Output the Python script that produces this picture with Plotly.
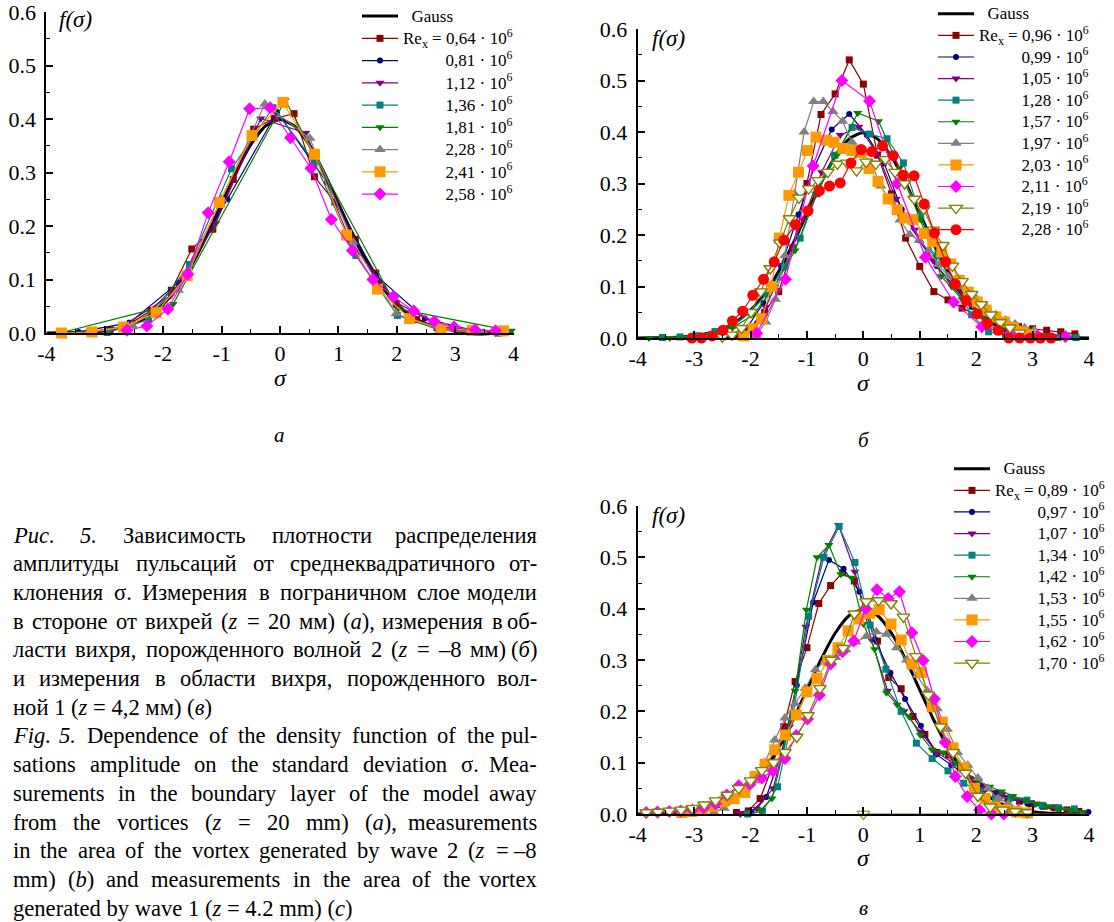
import re
import plotly.graph_objects as go

W, H = 1114, 922

# ---------------- data ----------------
GAUSS_X = [-4.0, -3.75, -3.5, -3.25, -3.0, -2.75, -2.5, -2.25, -2.0, -1.75, -1.5, -1.25, -1.0, -0.75, -0.5, -0.25,
           0.0, 0.25, 0.5, 0.75, 1.0, 1.25, 1.5, 1.75, 2.0, 2.25, 2.5, 2.75, 3.0, 3.25, 3.5, 3.75, 4.0]
GAUSS_Y = [0.0001, 0.0004, 0.0009, 0.0020, 0.0044, 0.0091, 0.0175, 0.0317, 0.0540, 0.0863, 0.1295, 0.1826, 0.2420,
           0.3011, 0.3521, 0.3867, 0.3989, 0.3867, 0.3521, 0.3011, 0.2420, 0.1826, 0.1295, 0.0863, 0.0540, 0.0317,
           0.0175, 0.0091, 0.0044, 0.0020, 0.0009, 0.0004, 0.0001]

X_TICK_VALUES = [-4, -3, -2, -1, 0, 1, 2, 3, 4]
X_TICK_LABELS = ["-4", "-3", "-2", "-1", "0", "1", "2", "3", "4"]
Y_TICK_VALUES = [0.0, 0.1, 0.2, 0.3, 0.4, 0.5, 0.6]
Y_TICK_LABELS = ["0.0", "0.1", "0.2", "0.3", "0.4", "0.5", "0.6"]

# panel a
A_LABELS = ["0,64", "0,81", "1,12", "1,36", "1,81", "2,28", "2,41", "2,58"]
a_064_x = [-3.26, -2.91, -2.56, -2.21, -1.86, -1.51, -1.15, -0.80, -0.45, -0.10, 0.24, 0.59, 0.94, 1.29, 1.64, 1.99, 2.34, 2.69, 3.04, 3.39, 3.74]
a_064_y = [0.002, 0.006, 0.018, 0.042, 0.08, 0.157, 0.194, 0.287, 0.381, 0.401, 0.41, 0.292, 0.245, 0.175, 0.112, 0.055, 0.025, 0.01, 0.003, 0.001, 0.0]
a_081_x = [-3.45, -2.58, -1.74, -0.90, -0.05, 0.80, 1.63, 2.48, 3.34]
a_081_y = [0.002, 0.019, 0.094, 0.25, 0.413, 0.282, 0.109, 0.027, 0.004]
a_112_x = [-2.64, -1.87, -1.10, -0.33, 0.44, 1.21, 1.98, 2.75, 3.52]
a_112_y = [0.017, 0.07, 0.205, 0.401, 0.374, 0.17, 0.058, 0.012, 0.002]
a_136_x = [-2.96, -2.25, -1.55, -0.83, -0.12, 0.59, 1.30, 2.01, 2.72, 3.43]
a_136_y = [0.001, 0.025, 0.128, 0.307, 0.421, 0.32, 0.145, 0.033, 0.006, 0.001]
a_181_x = [-3.77, -1.83, 0.09, 2.02, 3.96]
a_181_y = [0.0, 0.054, 0.435, 0.045, 0.004]
a_228_x = [-3.28, -2.53, -1.74, -1.0, -0.26, 0.51, 1.25, 1.99, 2.74, 3.49]
a_228_y = [0.002, 0.014, 0.08, 0.25, 0.428, 0.364, 0.17, 0.036, 0.006, 0.0]
a_241_x = [-3.74, -3.22, -2.68, -2.12, -1.59, -1.04, -0.48, 0.05, 0.59, 1.14, 1.67, 2.22, 2.76, 3.29, 3.83]
a_241_y = [0.0, 0.002, 0.011, 0.038, 0.107, 0.244, 0.369, 0.431, 0.334, 0.183, 0.082, 0.027, 0.008, 0.005, 0.004]
a_258_x = [-2.62, -2.28, -1.92, -1.58, -1.23, -0.87, -0.52, -0.17, 0.18, 0.53, 0.88, 1.24, 1.59, 1.94, 2.29, 2.64, 2.98, 3.34, 3.69]
a_258_y = [0.005, 0.013, 0.045, 0.110, 0.225, 0.320, 0.419, 0.421, 0.365, 0.308, 0.212, 0.154, 0.100, 0.068, 0.041, 0.022, 0.011, 0.006, 0.004]

# panel b
B_LABELS = ["0,96", "0,99", "1,05", "1,28", "1,57", "1,97", "2,03", "2,11", "2,19", "2,28"]
b_096_x = [-2.25, -2.0, -1.75, -1.5, -1.25, -1.0, -0.75, -0.5, -0.25, 0.0, 0.25, 0.5, 0.75, 1.0, 1.25, 1.5, 1.75, 2.0, 2.25, 2.5, 2.75, 3.0, 3.25, 3.5, 3.75]
b_096_y = [0.005, 0.02, 0.05, 0.09, 0.175, 0.30, 0.434, 0.474, 0.540, 0.493, 0.355, 0.28, 0.194, 0.139, 0.09, 0.074, 0.058, 0.045, 0.035, 0.028, 0.022, 0.018, 0.015, 0.012, 0.008]
b_099_x = [-2.39, -2.08, -1.77, -1.46, -1.15, -0.87, -0.56, -0.25, 0.06, 0.37, 0.68, 0.99, 1.30, 1.61, 1.92, 2.23, 2.54, 2.85, 3.16]
b_099_y = [0.003, 0.017, 0.068, 0.14, 0.24, 0.332, 0.405, 0.435, 0.394, 0.339, 0.25, 0.19, 0.14, 0.10, 0.06, 0.03, 0.012, 0.004, 0.001]
b_105_x = [-2.06, -1.73, -1.40, -1.07, -0.74, -0.41, -0.08, 0.25, 0.58, 0.91, 1.24, 1.57, 1.90, 2.23, 2.56, 2.89]
b_105_y = [0.01, 0.06, 0.14, 0.23, 0.322, 0.394, 0.41, 0.358, 0.27, 0.21, 0.15, 0.1, 0.065, 0.035, 0.015, 0.005]
b_128_x = [-3.56, -3.25, -2.94, -2.63, -2.32, -2.01, -1.71, -1.40, -1.12, -0.82, -0.51, -0.20, 0.11, 0.42, 0.71, 1.01, 1.31, 1.61, 1.92, 2.22, 2.52, 2.83, 3.14, 3.45, 3.77]
b_128_y = [0.001, 0.002, 0.0045, 0.0125, 0.025, 0.05, 0.086, 0.138, 0.194, 0.28, 0.355, 0.409, 0.396, 0.387, 0.34, 0.239, 0.16, 0.10, 0.045, 0.012, 0.005, 0.002, 0.001, 0.001, 0.001]
b_157_x = [-3.80, -3.43, -3.06, -2.69, -2.32, -1.95, -1.58, -1.21, -0.84, -0.47, -0.10, 0.27, 0.64, 1.01, 1.38, 1.75, 2.12, 2.49, 2.86, 3.23, 3.60]
b_157_y = [0.0, 0.0, 0.002, 0.008, 0.02, 0.045, 0.1, 0.17, 0.28, 0.355, 0.437, 0.421, 0.33, 0.23, 0.12, 0.075, 0.04, 0.02, 0.01, 0.005, 0.002]
b_197_x = [-1.90, -1.73, -1.56, -1.39, -1.22, -1.05, -0.88, -0.71, -0.54, -0.37, -0.20, -0.03, 0.14, 0.31, 0.48, 0.65, 0.82, 0.99, 1.16, 1.33, 1.50, 1.67, 1.84, 2.01, 2.18, 2.35, 2.52, 2.69, 2.86, 3.03]
b_197_y = [0.005, 0.031, 0.075, 0.16, 0.28, 0.40, 0.459, 0.459, 0.44, 0.421, 0.38, 0.36, 0.34, 0.295, 0.265, 0.229, 0.201, 0.19, 0.17, 0.142, 0.12, 0.10, 0.088, 0.075, 0.06, 0.045, 0.035, 0.027, 0.02, 0.015]
b_203_x = [-2.12, -1.96, -1.80, -1.63, -1.49, -1.32, -1.15, -0.99, -0.84, -0.65, -0.52, -0.36, -0.20, -0.04, 0.10, 0.26, 0.44, 0.60, 0.73, 0.88, 1.08, 1.23, 1.39, 1.55, 1.70, 1.86, 2.02, 2.18, 2.35, 2.50, 2.66, 2.82, 2.98]
b_203_y = [0.004, 0.018, 0.0375, 0.10, 0.194, 0.277, 0.322, 0.364, 0.39, 0.384, 0.38, 0.368, 0.364, 0.36, 0.329, 0.304, 0.27, 0.249, 0.233, 0.23, 0.203, 0.187, 0.167, 0.144, 0.112, 0.089, 0.07, 0.054, 0.041, 0.031, 0.02, 0.012, 0.006]
b_211_x = [-1.89, -1.38, -0.89, -0.38, 0.11, 0.60, 1.10, 1.60, 2.10, 2.60, 3.09, 3.58]
b_211_y = [0.009, 0.114, 0.334, 0.50, 0.46, 0.30, 0.157, 0.07, 0.022, 0.008, 0.004, 0.003]
b_219_x = [-2.50, -2.33, -2.16, -1.99, -1.82, -1.65, -1.48, -1.31, -1.14, -0.97, -0.80, -0.63, -0.46, -0.29, -0.12, 0.05, 0.22, 0.39, 0.56, 0.73, 0.90, 1.07, 1.24, 1.41, 1.58, 1.75, 1.92, 2.09, 2.26, 2.43, 2.60, 2.77]
b_219_y = [0.002, 0.006, 0.019, 0.05, 0.09, 0.135, 0.185, 0.232, 0.272, 0.29, 0.306, 0.322, 0.338, 0.34, 0.325, 0.342, 0.338, 0.347, 0.322, 0.30, 0.27, 0.25, 0.21, 0.18, 0.14, 0.11, 0.085, 0.065, 0.045, 0.03, 0.02, 0.01]
b_228_x = [-3.04, -2.87, -2.68, -2.49, -2.32, -2.14, -1.96, -1.77, -1.58, -1.41, -1.20, -0.98, -0.78, -0.60, -0.41, -0.22, -0.04, 0.15, 0.34, 0.53, 0.71, 0.90, 1.08, 1.26, 1.46, 1.63, 1.82, 2.02, 2.20, 2.39, 2.58, 2.77, 2.96, 3.14, 3.33]
b_228_y = [0.0, 0.0, 0.004, 0.015, 0.033, 0.052, 0.083, 0.114, 0.148, 0.19, 0.22, 0.247, 0.286, 0.295, 0.301, 0.34, 0.366, 0.362, 0.373, 0.354, 0.316, 0.315, 0.26, 0.204, 0.148, 0.105, 0.073, 0.047, 0.028, 0.015, 0.0, 0.0, 0.0, 0.0, 0.0]

# panel c
C_LABELS = ["0,89", "0,97", "1,07", "1,34", "1,42", "1,53", "1,55", "1,62", "1,70"]
c_089_x = [-2.25, -2.04, -1.83, -1.62, -1.41, -1.21, -1.0, -0.79, -0.58, -0.37, -0.16, 0.05, 0.25, 0.45, 0.67, 0.88, 1.09, 1.30, 1.51, 1.72, 1.93, 2.14, 2.35, 2.56, 2.77, 2.98, 3.19, 3.40, 3.61, 3.82]
c_089_y = [0.003, 0.006, 0.03, 0.09, 0.17, 0.258, 0.324, 0.41, 0.445, 0.47, 0.454, 0.40, 0.337, 0.266, 0.244, 0.19, 0.155, 0.12, 0.115, 0.09, 0.065, 0.05, 0.04, 0.03, 0.025, 0.02, 0.015, 0.012, 0.008, 0.005]
c_097_x = [-1.98, -1.72, -1.45, -1.18, -0.89, -0.61, -0.35, -0.07, 0.20, 0.48, 0.74, 1.02, 1.29, 1.56, 1.83, 2.10, 2.37, 2.64, 2.91, 3.18, 3.45, 3.72, 3.99]
c_097_y = [0.004, 0.033, 0.12, 0.251, 0.412, 0.495, 0.478, 0.433, 0.34, 0.275, 0.224, 0.172, 0.116, 0.095, 0.075, 0.055, 0.04, 0.03, 0.02, 0.015, 0.01, 0.006, 0.004]
c_107_x = [-2.18, -1.89, -1.60, -1.31, -1.02, -0.73, -0.44, -0.15, 0.14, 0.43, 0.72, 1.01, 1.30, 1.59, 1.88, 2.17, 2.46, 2.75, 3.04, 3.33, 3.62, 3.91]
c_107_y = [0.0, 0.01, 0.05, 0.17, 0.365, 0.50, 0.563, 0.472, 0.34, 0.24, 0.2, 0.16, 0.12, 0.1, 0.07, 0.05, 0.038, 0.028, 0.02, 0.013, 0.008, 0.004]
c_134_x = [-2.05, -1.79, -1.52, -1.25, -0.97, -0.70, -0.43, -0.15, 0.12, 0.40, 0.67, 0.94, 1.22, 1.50, 1.78, 2.06, 2.34, 2.62, 2.90, 3.17, 3.46, 3.74]
c_134_y = [0.0, 0.005, 0.053, 0.19, 0.385, 0.50, 0.56, 0.49, 0.368, 0.282, 0.20, 0.138, 0.108, 0.084, 0.06, 0.045, 0.03, 0.032, 0.027, 0.017, 0.012, 0.01]
c_142_x = [-1.82, -1.62, -1.42, -1.21, -1.01, -0.82, -0.61, -0.40, -0.20, 0.0, 0.2, 0.41, 0.6, 0.81, 1.01, 1.22, 1.42, 1.63, 1.83, 2.04, 2.24, 2.45, 2.65, 2.86, 3.06, 3.27, 3.47, 3.68, 3.88]
c_142_y = [0.008, 0.03, 0.12, 0.24, 0.398, 0.50, 0.524, 0.467, 0.46, 0.37, 0.321, 0.236, 0.213, 0.19, 0.154, 0.125, 0.12, 0.1, 0.08, 0.065, 0.053, 0.044, 0.035, 0.027, 0.02, 0.015, 0.01, 0.007, 0.004]
c_153_x = [-2.65, -2.47, -2.29, -2.11, -1.93, -1.75, -1.57, -1.39, -1.21, -1.03, -0.85, -0.67, -0.49, -0.31, -0.13, 0.05, 0.23, 0.41, 0.59, 0.77, 0.95, 1.13, 1.31, 1.49, 1.67, 1.85, 2.03, 2.21, 2.39, 2.57, 2.75, 2.93]
c_153_y = [0.003, 0.011, 0.025, 0.045, 0.065, 0.10, 0.144, 0.187, 0.215, 0.245, 0.281, 0.30, 0.305, 0.32, 0.335, 0.346, 0.355, 0.35, 0.324, 0.30, 0.27, 0.24, 0.205, 0.165, 0.12, 0.095, 0.07, 0.05, 0.03, 0.02, 0.01, 0.005]
c_155_x = [-3.22, -3.04, -2.85, -2.67, -2.48, -2.29, -2.10, -1.92, -1.74, -1.57, -1.38, -1.19, -1.00, -0.82, -0.63, -0.45, -0.27, -0.08, 0.11, 0.28, 0.49, 0.67, 0.86, 1.03, 1.22, 1.40, 1.59, 1.78, 1.97, 2.16, 2.34, 2.53, 2.72, 2.91]
c_155_y = [0.003, 0.005, 0.008, 0.015, 0.024, 0.03, 0.042, 0.073, 0.097, 0.125, 0.154, 0.193, 0.238, 0.264, 0.299, 0.324, 0.357, 0.38, 0.391, 0.398, 0.37, 0.339, 0.292, 0.276, 0.209, 0.179, 0.129, 0.09, 0.05, 0.03, 0.014, 0.008, 0.004, 0.002]
c_162_x = [-3.85, -3.65, -3.44, -3.24, -3.03, -2.83, -2.62, -2.42, -2.21, -2.01, -1.80, -1.60, -1.39, -1.19, -0.99, -0.78, -0.58, -0.37, -0.17, 0.04, 0.24, 0.44, 0.64, 0.86, 1.06, 1.26, 1.45, 1.63, 1.84, 2.06, 2.27, 2.49]
c_162_y = [0.003, 0.004, 0.005, 0.006, 0.008, 0.012, 0.02, 0.037, 0.055, 0.058, 0.07, 0.084, 0.108, 0.153, 0.185, 0.232, 0.292, 0.316, 0.337, 0.40, 0.437, 0.42, 0.433, 0.353, 0.299, 0.224, 0.14, 0.073, 0.034, 0.008, 0.0, 0.0]
c_170_x = [-3.85, -3.64, -3.44, -3.23, -3.03, -2.82, -2.62, -2.41, -2.21, -2.0, -1.80, -1.59, -1.39, -1.18, -0.98, -0.77, -0.57, -0.36, -0.16, 0.05, 0.27, 0.49, 0.71, 0.93, 1.15, 1.37, 1.59, 1.81, 2.03, 2.25, 2.47, 2.69, 2.91]
c_170_y = [0.003, 0.004, 0.006, 0.008, 0.011, 0.018, 0.026, 0.037, 0.05, 0.065, 0.085, 0.10, 0.12, 0.15, 0.192, 0.245, 0.30, 0.323, 0.39, 0.414, 0.416, 0.41, 0.384, 0.307, 0.232, 0.17, 0.12, 0.08, 0.035, 0.014, 0.008, 0.005, 0.003]
c_170_zero_x = [0.0, 4.0]
c_170_zero_y = [0.0, 0.0]

CAPTION = [
    ("<i>Рис.</i> <i>5.</i> Зависимость плотности распределения", True),
    ("амплитуды пульсаций от среднеквадратичного от-", True),
    ("клонения σ. Измерения в пограничном слое модели", True),
    ("в стороне от вихрей (<i>z</i> = 20 мм) (<i>а</i>), измерения в об-", True),
    ("ласти вихря, порожденного волной 2 (<i>z</i> = –8 мм) (<i>б</i>)", True),
    ("и измерения в области вихря, порожденного вол-", True),
    ("ной 1 (<i>z</i> = 4,2 мм) (<i>в</i>)", False),
    ("<i>Fig.</i> <i>5.</i> Dependence of the density function of the pul-", True),
    ("sations amplitude on the standard deviation σ. Mea-", True),
    ("surements in the boundary layer of the model away", True),
    ("from the vortices (<i>z</i> = 20 mm) (<i>a</i>), measurements", True),
    ("in the area of the vortex generated by wave 2 (<i>z</i> = –8", True),
    ("mm) (<i>b</i>) and measurements in the area of the vortex", True),
    ("generated by wave 1 (<i>z</i> = 4.2 mm) (<i>c</i>)", False),
]

# ---------------- styling ----------------
SERIF = "Liberation Serif"
C_DRED, C_NAVY, C_PURP, C_TEAL = "#8B0000", "#000080", "#800080", "#008080"
C_GREEN, C_GREY, C_ORNG, C_MAG = "#008000", "#808080", "#FF9900", "#FF00FF"
C_OLIVE, C_RED = "#808000", "#FF0000"

NB = "\u00a0"
PAD = NB * 10
LEG_TXT = '<span style="font-size:17px">{}</span>'


def px_x(p):
    return p / W


def px_y(p):
    return 1 - p / H


def label(num, first):
    if first:
        return LEG_TXT.format("Re<sub>x</sub> = " + num + " · 10<sup>6</sup>")
    return LEG_TXT.format(PAD + num + " · 10<sup>6</sup>")


fig = go.Figure()


def add_gauss(xa, ya, leg):
    fig.add_trace(go.Scatter(x=GAUSS_X, y=GAUSS_Y, mode="lines", name=LEG_TXT.format(NB + NB + "Gauss"),
                             line=dict(color="black", width=3, shape="spline", smoothing=0.6),
                             xaxis=xa, yaxis=ya, legend=leg, cliponaxis=False))


def add_series(xs, ys, name, color, symbol, size, xa, ya, leg, hollow=False):
    if hollow:
        mk = dict(symbol=symbol, size=size, color="white", line=dict(color=color, width=1.4))
    else:
        mk = dict(symbol=symbol, size=size, color=color, line=dict(width=0))
    fig.add_trace(go.Scatter(x=xs, y=ys, mode="lines+markers", name=name,
                             line=dict(color=color, width=1.2), marker=mk,
                             xaxis=xa, yaxis=ya, legend=leg, cliponaxis=False))


# panel a
add_gauss("x", "y", "legend")
a_data = [(a_064_x, a_064_y, C_DRED, "square", 7), (a_081_x, a_081_y, C_NAVY, "circle", 6),
          (a_112_x, a_112_y, C_PURP, "triangle-down", 8), (a_136_x, a_136_y, C_TEAL, "square", 7),
          (a_181_x, a_181_y, C_GREEN, "triangle-down", 8), (a_228_x, a_228_y, C_GREY, "triangle-up", 10),
          (a_241_x, a_241_y, C_ORNG, "square", 11), (a_258_x, a_258_y, C_MAG, "diamond", 10)]
for i, (xs, ys, col, sym, sz) in enumerate(a_data):
    add_series(xs, ys, label(A_LABELS[i], i == 0), col, sym, sz, "x", "y", "legend")

# panel b
add_gauss("x2", "y2", "legend2")
b_data = [(b_096_x, b_096_y, C_DRED, "square", 7, False), (b_099_x, b_099_y, C_NAVY, "circle", 6, False),
          (b_105_x, b_105_y, C_PURP, "triangle-down", 8, False), (b_128_x, b_128_y, C_TEAL, "square", 7, False),
          (b_157_x, b_157_y, C_GREEN, "triangle-down", 8, False), (b_197_x, b_197_y, C_GREY, "triangle-up", 10, False),
          (b_203_x, b_203_y, C_ORNG, "square", 11, False), (b_211_x, b_211_y, C_MAG, "diamond", 10, False),
          (b_219_x, b_219_y, C_OLIVE, "triangle-down", 11, True), (b_228_x, b_228_y, C_RED, "circle", 11, False)]
for i, (xs, ys, col, sym, sz, hol) in enumerate(b_data):
    add_series(xs, ys, label(B_LABELS[i], i == 0), col, sym, sz, "x2", "y2", "legend2", hol)

# panel c
add_gauss("x3", "y3", "legend3")
c_data = [(c_089_x, c_089_y, C_DRED, "square", 7, False), (c_097_x, c_097_y, C_NAVY, "circle", 6, False),
          (c_107_x, c_107_y, C_PURP, "triangle-down", 8, False), (c_134_x, c_134_y, C_TEAL, "square", 7, False),
          (c_142_x, c_142_y, C_GREEN, "triangle-down", 8, False), (c_153_x, c_153_y, C_GREY, "triangle-up", 10, False),
          (c_155_x, c_155_y, C_ORNG, "square", 11, False), (c_162_x, c_162_y, C_MAG, "diamond", 10, False),
          (c_170_x, c_170_y, C_OLIVE, "triangle-down", 11, True)]
for i, (xs, ys, col, sym, sz, hol) in enumerate(c_data):
    add_series(xs, ys, label(C_LABELS[i], i == 0), col, sym, sz, "x3", "y3", "legend3", hol)
fig.add_trace(go.Scatter(x=c_170_zero_x, y=c_170_zero_y, mode="lines+markers", showlegend=False,
                         line=dict(color=C_OLIVE, width=1.2),
                         marker=dict(symbol="triangle-down", size=[11, 0], color="white",
                                     line=dict(color=C_OLIVE, width=1.4)),
                         xaxis="x3", yaxis="y3", cliponaxis=False))

# ---------------- axes ----------------
tickfont = dict(family=SERIF, size=22, color="black")


def xaxis_cfg(x0, x1, anchor):
    return dict(domain=[px_x(x0), px_x(x1)], anchor=anchor, range=[-4, 4], showline=True, linecolor="black",
                linewidth=2, ticks="inside", ticklen=7, tickwidth=1.5, tickcolor="black", tickmode="array",
                tickvals=X_TICK_VALUES, ticktext=X_TICK_LABELS,
                minor=dict(ticks="inside", ticklen=4, tickwidth=1, tickcolor="black", tickmode="linear",
                           tick0=0, dtick=0.5),
                showgrid=False, zeroline=False, tickfont=tickfont, ticklabelstandoff=0, fixedrange=True,
                automargin=False, ticklabeloverflow="allow")


def yaxis_cfg(y0, y1, anchor):
    return dict(domain=[px_y(y1), px_y(y0)], anchor=anchor, range=[0, 0.6], showline=True, linecolor="black",
                linewidth=2, ticks="inside", ticklen=7, tickwidth=1.5, tickcolor="black", tickmode="array",
                tickvals=Y_TICK_VALUES, ticktext=Y_TICK_LABELS,
                minor=dict(ticks="inside", ticklen=4, tickwidth=1, tickcolor="black", tickmode="linear",
                           tick0=0, dtick=0.05),
                showgrid=False, zeroline=False, tickfont=tickfont, ticklabelstandoff=4, fixedrange=True,
                automargin=False, ticklabeloverflow="allow")


def leg_cfg(x, y, fsize):
    return dict(x=px_x(x), y=px_y(y), xanchor="left", yanchor="top", bgcolor="rgba(0,0,0,0)", borderwidth=0,
                font=dict(family=SERIF, size=fsize, color="black"), itemwidth=36, tracegroupgap=0,
                itemsizing="trace")


fig.update_layout(
    width=W, height=H, autosize=False, margin=dict(l=0, r=0, t=0, b=0, pad=0, autoexpand=False),
    paper_bgcolor="white", plot_bgcolor="white", showlegend=True,
    xaxis=xaxis_cfg(46.4, 513.6, "y"), yaxis=yaxis_cfg(12, 333, "x"),
    xaxis2=xaxis_cfg(637.7, 1089, "y2"), yaxis2=yaxis_cfg(29, 338, "x2"),
    xaxis3=xaxis_cfg(637.7, 1089, "y3"), yaxis3=yaxis_cfg(506, 814, "x3"),
    legend=leg_cfg(357, 0, 14.8),
    legend2=leg_cfg(933, -2, 14.3),
    legend3=leg_cfg(949, 453, 14.3),
)

annotations = []


def ann(text, x, y, size, xanchor="center", yanchor="middle"):
    annotations.append(dict(text=text, x=px_x(x), y=px_y(y), xref="paper", yref="paper", showarrow=False,
                            xanchor=xanchor, yanchor=yanchor, font=dict(family=SERIF, size=size, color="black")))


# axis titles and panel labels
for (sx, sy) in [(280, 378), (863, 383), (863, 858)]:
    ann("<i>σ</i>", sx, sy, 24)
for (fx, fy) in [(57, 20), (650, 38), (650, 515)]:
    ann("<i>f(σ)</i>", fx, fy, 23, xanchor="left")
for (t, lx, ly) in [("<i>а</i>", 279, 435), ("<i>б</i>", 864, 440), ("<i>в</i>", 864, 908)]:
    ann(t, lx, ly, 21)

# caption (justified)
WID = {}
for ch, w in zip("abcdefghijklmnopqrstuvwxyz",
                 [444, 500, 444, 500, 444, 333, 500, 500, 278, 278, 500, 278, 778, 500, 500, 500, 500, 333, 389,
                  278, 500, 500, 722, 500, 500, 444]):
    WID[ch] = w
for ch, w in zip("абвгдежзийклмнопрстуфхцчшщъыьэюя",
                 [444, 508, 472, 410, 509, 444, 691, 395, 535, 535, 473, 499, 633, 535, 500, 535, 500, 444, 437,
                  500, 648, 500, 535, 503, 770, 770, 517, 672, 456, 429, 747, 484]):
    WID[ch] = w
WID.update({"D": 722, "F": 556, "M": 889, "R": 667, "Р": 556, "З": 555, "И": 722, " ": 250, ".": 250, ",": 250,
            "(": 333, ")": 333, "=": 564, "–": 500, "-": 333, "σ": 550})
for d in "0123456789":
    WID[d] = 500

CAP_SIZE = 22.6
CAP_L, CAP_R = 11, 539


def tw(s):
    s = re.sub(r"<[^>]+>", "", s)
    return sum(WID.get(c, 500) for c in s) * CAP_SIZE / 1000.0


for k, (line, just) in enumerate(CAPTION):
    y = 535 + 28.7 * k
    if not just:
        ann(line, CAP_L, y, CAP_SIZE, xanchor="left")
        continue
    words = line.split(" ")
    widths = [tw(w) for w in words]
    gap = (CAP_R - CAP_L - sum(widths)) / (len(words) - 1)
    x = CAP_L
    for i, w in enumerate(words):
        if i == len(words) - 1:
            ann(w, CAP_R, y, CAP_SIZE, xanchor="right")
        else:
            ann(w, x, y, CAP_SIZE, xanchor="left")
        x += widths[i] + gap

fig.update_layout(annotations=annotations)

fig.write_html("out.html", config={"displayModeBar": False},
               post_script="document.body.style.margin='0px';")
